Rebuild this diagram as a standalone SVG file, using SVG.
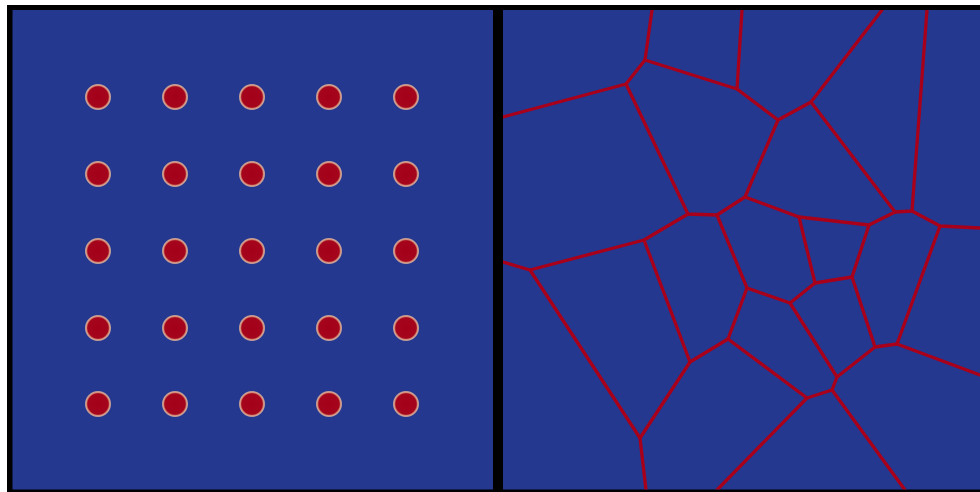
<svg xmlns="http://www.w3.org/2000/svg" width="980" height="492" viewBox="0 0 980 492">
<defs>
<radialGradient id="dot">
<stop offset="0" stop-color="#a3001a"/>
<stop offset="0.76" stop-color="#a5061c"/>
<stop offset="0.86" stop-color="#d8947e"/>
<stop offset="0.92" stop-color="#c9a29a"/>
<stop offset="1" stop-color="#24388f"/>
</radialGradient>
<clipPath id="rclip"><rect x="503" y="10" width="477" height="479.5"/></clipPath>
<style>
.panel{fill:#24388f}
.dot{fill:url(#dot)}
.edge{stroke:#a8001b;stroke-width:3.3;fill:none;stroke-linecap:round;stroke-linejoin:round}
</style>
</defs>
<rect x="0" y="0" width="980" height="492" fill="#ffffff"/>
<rect x="7" y="5" width="973" height="487" fill="#000000"/>
<g id="left-panel">
<rect class="panel" x="12.5" y="10" width="480.5" height="479.5"/>
<g id="dots">
<circle class="dot" cx="98" cy="97" r="13.5"/><circle class="dot" cx="175" cy="97" r="13.5"/><circle class="dot" cx="252" cy="97" r="13.5"/><circle class="dot" cx="329" cy="97" r="13.5"/><circle class="dot" cx="406" cy="97" r="13.5"/>
<circle class="dot" cx="98" cy="174" r="13.5"/><circle class="dot" cx="175" cy="174" r="13.5"/><circle class="dot" cx="252" cy="174" r="13.5"/><circle class="dot" cx="329" cy="174" r="13.5"/><circle class="dot" cx="406" cy="174" r="13.5"/>
<circle class="dot" cx="98" cy="251" r="13.5"/><circle class="dot" cx="175" cy="251" r="13.5"/><circle class="dot" cx="252" cy="251" r="13.5"/><circle class="dot" cx="329" cy="251" r="13.5"/><circle class="dot" cx="406" cy="251" r="13.5"/>
<circle class="dot" cx="98" cy="328" r="13.5"/><circle class="dot" cx="175" cy="328" r="13.5"/><circle class="dot" cx="252" cy="328" r="13.5"/><circle class="dot" cx="329" cy="328" r="13.5"/><circle class="dot" cx="406" cy="328" r="13.5"/>
<circle class="dot" cx="98" cy="404" r="13.5"/><circle class="dot" cx="175" cy="404" r="13.5"/><circle class="dot" cx="252" cy="404" r="13.5"/><circle class="dot" cx="329" cy="404" r="13.5"/><circle class="dot" cx="406" cy="404" r="13.5"/>
</g>
</g>
<g id="right-panel">
<rect class="panel" x="503" y="10" width="477" height="479.5"/>
<g id="edges" class="edge" clip-path="url(#rclip)">
<path d="M503,117 L626,84 L645,60 L652,10"/>
<path d="M645,60 L737,89 L742,10"/>
<path d="M737,89 L778,120 L811,102 L882,10"/>
<path d="M811,102 L895,212 L912,211 L927,10"/>
<path d="M912,211 L940,226 L980,228"/>
<path d="M895,212 L869,225 L799,217 L745,197 L778,120"/>
<path d="M745,197 L717,215 L688,214 L626,84"/>
<path d="M688,214 L644,240 L530,270 L503,262"/>
<path d="M530,270 L640,438 L646,490"/>
<path d="M640,438 L690,362 L644,240"/>
<path d="M690,362 L728,339 L747,288 L717,215"/>
<path d="M747,288 L790,303 L815,283 L799,217"/>
<path d="M815,283 L852,277 L869,225"/>
<path d="M852,277 L875,347 L897,344 L940,226"/>
<path d="M897,344 L980,375"/>
<path d="M790,303 L837,377 L875,347"/>
<path d="M837,377 L832,390 L807,398 L728,339"/>
<path d="M807,398 L717,490"/>
<path d="M832,390 L905,490"/>
</g>
</g>
</svg>
